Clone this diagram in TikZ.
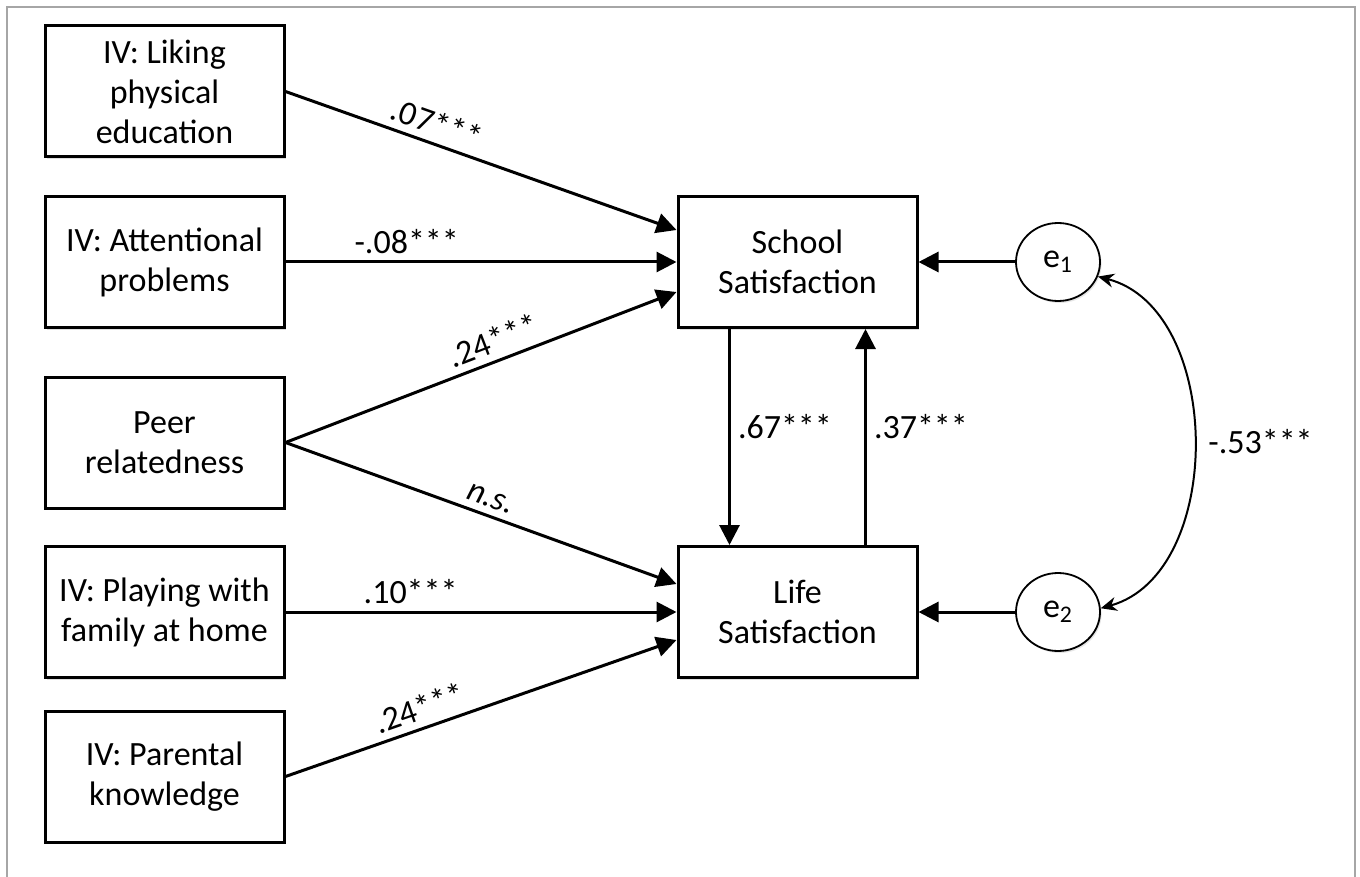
\documentclass[tikz,border=0pt]{standalone}
\usepackage{fontspec}
\setmainfont{Carlito}
\usetikzlibrary{shapes,arrows.meta,positioning,calc,shadows}

\begin{document}
\begin{tikzpicture}[x=0.5pt, y=-0.5pt, font=\fontsize{17}{20}\selectfont,
  >={Triangle[length=10pt,width=10pt]},
  varbox/.style={draw, rectangle, line width=1.5pt, fill=white, align=center,
    minimum width=119.5pt, minimum height=65.5pt,
    drop shadow={opacity=0.25, shadow xshift=1pt, shadow yshift=-1.2pt}},
  errnode/.style={draw, ellipse, line width=0.9pt, fill=white, inner sep=0pt,
    minimum width=42pt, minimum height=39pt,
    drop shadow={opacity=0.2, shadow xshift=0.8pt, shadow yshift=-1pt}},
  link/.style={->, line width=1.5pt},
  coef/.style={inner sep=3.5pt}]
\useasboundingbox (0,0) rectangle (1360,877);
% frame
\draw[gray!70, line width=1pt] (7,877) -- (7,7) -- (1355,7) -- (1355,877);

% predictors
\node[varbox] (liking) at (164.5,91.5) {IV: Liking\\physical\\education};
\node[varbox] (attention) at (164.5,262) {IV: Attentional\\problems};
\node[varbox] (peer) at (164.5,442.5) {Peer\\relatedness};
\node[varbox] (playing) at (164.5,612) {IV: Playing with\\family at home};
\node[varbox] (parental) at (164.5,776.5) {IV: Parental\\knowledge};

% outcomes
\node[varbox] (school) at (797.5,262) {School\\Satisfaction};
\node[varbox] (life) at (797.5,612) {Life\\Satisfaction};

% residuals
\node[errnode] (e1) at (1058,262) {e\textsubscript{1}};
\node[errnode] (e2) at (1058,612) {e\textsubscript{2}};

% paths to school satisfaction
\draw[link] (liking.east) -- node[coef, pos=0.37, sloped, above] {.07***} ([yshift=16pt]school.west);
\draw[link] (attention.east) -- node[coef, pos=0.31, above] {-.08***} (school.west);
\draw[link] (peer.east) -- node[coef, pos=0.55, sloped, above] {.24***} ([yshift=-15pt]school.west);

% paths to life satisfaction
\draw[link] (peer.east) -- node[coef, pos=0.51, sloped, above] {\textit{n.s.}} ([yshift=14pt]life.west);
\draw[link] (playing.east) -- node[coef, pos=0.32, above] {.10***} (life.west);
\draw[link] (parental.east) -- node[coef, pos=0.36, sloped, above] {.24***} ([yshift=-14pt]life.west);

% reciprocal paths
\draw[link] ([xshift=-34pt]school.south) -- node[coef, pos=0.45, right] {.67***} ([xshift=-34pt]life.north);
\draw[link] ([xshift=34pt]life.north) -- node[coef, pos=0.55, right] {.37***} ([xshift=34pt]school.south);

% residual paths
\draw[link] (e1) -- (school);
\draw[link] (e2) -- (life);
\draw[<->, >={Stealth[length=8pt,width=7pt]}, line width=1pt] (e1.-20) to[bend left=75] node[coef, right, inner sep=7pt] {-.53***} (e2.5);
\end{tikzpicture}
\end{document}
